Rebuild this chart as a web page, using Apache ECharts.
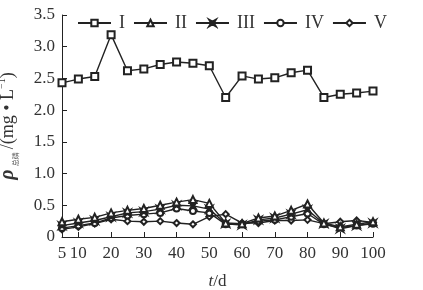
<!DOCTYPE html>
<html><head><meta charset="utf-8">
<script src="https://cdn.jsdelivr.net/npm/echarts@6/dist/echarts.min.js"></script>
<style>html,body{margin:0;padding:0;background:#fff}#c{width:423px;height:290px}</style>
</head><body><div id="c"></div>
<script>
const days = [5,10,15,20,25,30,35,40,45,50,55,60,65,70,75,80,85,90,95,100];
const seriesNames = ['I','II','III','IV','V'];
const s1 = [2.43,2.49,2.53,3.19,2.62,2.65,2.72,2.76,2.74,2.70,2.20,2.54,2.49,2.51,2.59,2.63,2.20,2.25,2.27,2.30];
const s2 = [0.24,0.28,0.31,0.38,0.42,0.45,0.50,0.55,0.59,0.53,0.22,0.21,0.30,0.33,0.42,0.52,0.22,0.16,0.20,0.24];
const s3 = [0.18,0.22,0.26,0.32,0.38,0.40,0.44,0.50,0.49,0.44,0.21,0.19,0.27,0.30,0.36,0.43,0.21,0.13,0.18,0.22];
const s4 = [0.14,0.18,0.22,0.30,0.34,0.36,0.38,0.45,0.41,0.38,0.20,0.20,0.25,0.27,0.32,0.37,0.20,0.15,0.18,0.21];
const s5 = [0.12,0.16,0.21,0.28,0.25,0.24,0.25,0.22,0.20,0.32,0.36,0.22,0.22,0.26,0.26,0.27,0.21,0.24,0.26,0.23];
const xLabelValues = [5,10,20,30,40,50,60,70,80,90,100];
const xTickValues = [10,20,30,40,50,60,70,80,90,100];

const ink = '#222';
const serif = '"Liberation Serif","DejaVu Serif",serif';
const starPath = 'path://M0,0L5,3L10,0L7,5L10,10L5,7L0,10L3,5Z';
const allData = [s1,s2,s3,s4,s5];
const symbols = ['emptyRect','emptyTriangle',starPath,'emptyCircle','emptyDiamond'];
const sizes = [7,7,7,6,6];

const chart = echarts.init(document.getElementById('c'));
chart.setOption({
  animation:false,
  backgroundColor:'#fff',
  grid:{left:62,right:50,top:15,bottom:53,containLabel:false,outerBoundsMode:'none'},
  legend:{
    left:77, top:14, padding:0, itemWidth:33, itemHeight:8, itemGap:8,
    textStyle:{fontFamily:serif,fontSize:18,color:'#333',padding:[0,0,0,3]},
    data:seriesNames
  },
  xAxis:{
    type:'value', min:5, max:100,
    name:'{t|t}{n|/d}', nameLocation:'middle', nameGap:36,
    nameTextStyle:{rich:{t:{fontFamily:serif,fontStyle:'italic',fontSize:17,color:'#333'},n:{fontFamily:serif,fontSize:17,color:'#333'}}},
    axisLine:{lineStyle:{color:ink,width:1}},
    axisTick:{inside:true,length:5,customValues:xTickValues,lineStyle:{color:ink}},
    axisLabel:{customValues:xLabelValues,fontFamily:serif,fontSize:17,color:'#333',margin:8,hideOverlap:false},
    splitLine:{show:false}
  },
  yAxis:{
    type:'value', min:0, max:3.5, interval:0.5,
    name:'{p|ρ}{s|  总磷  }{n|/(mg • L}{u|−1}{n|)}', nameLocation:'middle', nameGap:43, nameRotate:90,
    nameTextStyle:{rich:{
      p:{fontFamily:serif,fontStyle:'italic',fontWeight:'bold',fontSize:20,color:'#333',lineHeight:22},
      s:{fontFamily:'"Noto Sans CJK SC",sans-serif',fontSize:7,color:'#555',verticalAlign:'bottom',lineHeight:22},
      n:{fontFamily:serif,fontSize:18,color:'#333',lineHeight:22},
      u:{fontFamily:serif,fontSize:10,color:'#333',verticalAlign:'top',lineHeight:22}
    }},
    axisLine:{show:true,lineStyle:{color:ink,width:1}},
    axisTick:{show:true,inside:true,length:5,lineStyle:{color:ink}},
    axisLabel:{fontFamily:serif,fontSize:17,color:'#333',margin:7,formatter:v=>v===0?'0':v.toFixed(1)},
    splitLine:{show:false}
  },
  series: allData.map((d,i)=>({
    name:seriesNames[i], type:'line',
    data: days.map((t,j)=>[t,d[j]]),
    symbol:symbols[i], symbolSize:sizes[i], showAllSymbol:true,
    lineStyle:{color:ink,width:1.4},
    itemStyle:{color:ink,borderColor:ink,borderWidth:1.5},
    z: 10-i
  }))
});
</script></body></html>
